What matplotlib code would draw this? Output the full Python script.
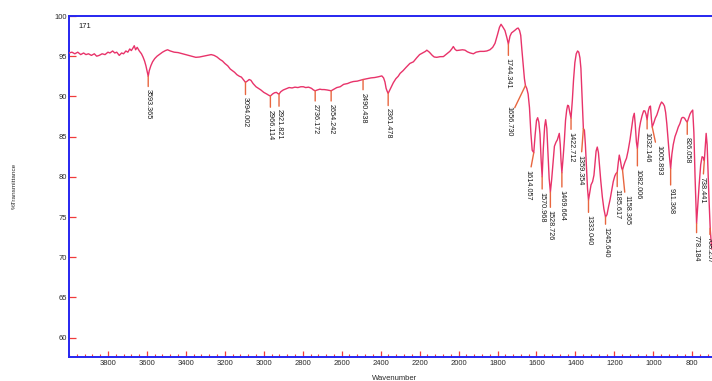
import numpy as np
import matplotlib
matplotlib.use("Agg")
import matplotlib.pyplot as plt
from matplotlib.ticker import MultipleLocator

plt.rcParams['font.family'] = ['Liberation Sans', 'DejaVu Sans']

# IR spectrum of sample 171: wavenumber (cm-1) and %Transmittance
wavenumber = [
    4000, 3985, 3970, 3955, 3940, 3925, 3913, 3900, 3885, 3870, 3858, 3845, 3830, 3815,
    3800, 3790, 3776, 3765, 3755, 3742, 3730, 3720, 3708, 3698, 3688, 3680, 3672, 3665,
    3658, 3650, 3639, 3628, 3620, 3612, 3605, 3598, 3593.365, 3588, 3580, 3571, 3560,
    3548, 3537, 3520, 3505, 3494, 3480, 3460, 3440, 3417, 3400, 3380, 3365, 3349, 3330,
    3310, 3290, 3270, 3255, 3240, 3225, 3212, 3200, 3185, 3172, 3161, 3150, 3138, 3125,
    3115, 3105, 3094.002, 3085, 3075, 3066, 3055, 3040, 3028, 3015, 3000, 2985, 2975,
    2966.114, 2955, 2945, 2935, 2928, 2921.821, 2912, 2900, 2885, 2870, 2855, 2840, 2825,
    2810, 2797, 2785, 2770, 2755, 2745, 2736.172, 2725, 2712, 2702, 2690, 2675, 2665,
    2654.242, 2640, 2625, 2608, 2590, 2570, 2555, 2540, 2520, 2505, 2490.438, 2470, 2450,
    2430, 2410, 2394, 2385, 2378, 2372, 2366, 2361.478, 2355, 2345, 2335, 2322, 2310,
    2300, 2285, 2270, 2250, 2232, 2215, 2200, 2185, 2170, 2163, 2150, 2135, 2125, 2112,
    2095, 2078, 2060, 2045, 2035, 2027, 2018, 2010, 1995, 1980, 1967, 1955, 1940, 1924,
    1910, 1890, 1870, 1855, 1839, 1825, 1813, 1800, 1790, 1782, 1772, 1762, 1752,
    1744.341, 1736, 1728, 1712, 1700, 1694, 1687, 1681, 1675, 1668, 1662, 1656.730, 1650,
    1643, 1636, 1629, 1622, 1614.057, 1607, 1600, 1594, 1588, 1582, 1576, 1570.968, 1565,
    1558, 1553, 1547, 1541, 1535, 1528.726, 1522, 1515, 1508, 1500, 1493, 1487, 1483,
    1478, 1474, 1469.664, 1463, 1457, 1451, 1445, 1440, 1435, 1429, 1422.712, 1416, 1410,
    1403, 1396, 1389, 1383, 1377, 1372, 1367, 1363, 1359.354, 1354, 1349, 1343, 1338,
    1333.040, 1327, 1320, 1312, 1305, 1300, 1294, 1288, 1282, 1276, 1270, 1262, 1254,
    1245.640, 1238, 1230, 1222, 1214, 1206, 1198, 1192, 1185.617, 1180, 1175, 1169, 1163,
    1158.365, 1152, 1145, 1138, 1130, 1120, 1112, 1104, 1098, 1093, 1087, 1082.006, 1077,
    1072, 1066, 1058, 1050, 1044, 1038, 1032.146, 1026, 1020, 1015, 1010, 1005.893, 998,
    990, 982, 974, 966, 958, 950, 943, 937, 931, 925, 918, 911.368, 905, 898, 889, 880,
    872, 864, 855, 848, 840, 833, 826.058, 819, 812, 805, 798, 792, 786, 781, 778.184,
    772, 765, 757, 750, 744, 738.441, 733, 729, 724, 719, 714, 708.257, 703, 699,
]
transmittance = [
    95.4, 95.5, 95.3, 95.5, 95.2, 95.4, 95.2, 95.3, 95.1, 95.3, 95.0, 95.1, 95.3, 95.2,
    95.5, 95.4, 95.65, 95.4, 95.5, 95.1, 95.4, 95.3, 95.65, 95.5, 95.9, 95.7, 96.0, 96.3,
    95.8, 96.1, 95.65, 95.3, 94.9, 94.4, 93.8, 93.0, 92.5, 93.2, 93.8, 94.3, 94.7,
    95.0, 95.2, 95.5, 95.7, 95.8, 95.65, 95.5, 95.45, 95.3, 95.2, 95.05, 94.95, 94.86, 94.9,
    95.0, 95.1, 95.2, 95.1, 94.9, 94.6, 94.4, 94.1, 93.8, 93.4, 93.2, 93.0, 92.7, 92.5,
    92.4, 92.1, 91.75, 91.9, 92.1, 92.0, 91.6, 91.2, 91.0, 90.8, 90.5, 90.3, 90.15,
    90.05, 90.3, 90.45, 90.5, 90.35, 90.3, 90.6, 90.8, 90.95, 91.1, 91.05, 91.15, 91.1,
    91.2, 91.2, 91.1, 91.15, 91.0, 90.8, 90.7, 90.8, 90.9, 90.85, 90.85, 90.8, 90.75,
    90.7, 90.9, 91.1, 91.2, 91.5, 91.6, 91.75, 91.85, 91.9, 92.0, 92.1, 92.2, 92.3,
    92.35, 92.45, 92.55, 92.3, 91.8, 91.0, 90.6, 90.38, 90.7, 91.2, 91.7, 92.2, 92.5,
    92.87, 93.2, 93.6, 94.1, 94.3, 94.8, 95.2, 95.4, 95.6, 95.75, 95.5, 95.1, 94.9, 94.86,
    94.94, 94.95, 95.3, 95.6, 95.9, 96.2, 95.85, 95.7, 95.75, 95.8, 95.75, 95.55, 95.4, 95.3,
    95.5, 95.6, 95.6, 95.65, 95.8, 96.1, 96.6, 97.7, 98.6, 98.97, 98.6, 98.2, 97.3,
    96.5, 97.5, 97.9, 98.2, 98.45, 98.5, 98.2, 97.6, 95.8, 93.9, 92.2, 91.35, 91.0,
    90.3, 88.6, 85.5, 83.3, 83.0, 85.2, 87.0, 87.35, 86.8, 85.3, 82.0, 80.0, 83.5,
    86.3, 87.1, 86.0, 83.0, 79.8, 78.1, 79.7, 81.8, 83.8, 84.3, 84.6, 85.1, 85.4,
    84.0, 82.0, 80.5, 82.5, 84.5, 87.0, 88.3, 88.9, 88.8, 88.0, 87.3, 89.5, 92.0,
    94.2, 95.3, 95.65, 95.5, 94.8, 93.5, 90.5, 88.0, 86.0, 85.8, 84.0, 81.0, 78.5,
    77.1, 78.0, 79.0, 79.4, 80.2, 81.5, 83.2, 83.7, 83.0, 81.3, 79.5, 77.5, 76.0,
    75.0, 75.3, 76.3, 77.2, 78.3, 79.4, 80.1, 80.4, 80.55, 81.8, 82.7, 82.0, 81.1,
    80.85, 81.4, 81.9, 82.3, 83.2, 84.6, 86.0, 87.4, 87.9, 86.5, 84.3, 83.5, 84.8,
    86.0, 86.8, 87.6, 88.2, 88.2, 87.8, 87.1, 88.2, 88.7, 88.8, 87.2, 86.2, 86.7,
    87.3, 87.7, 88.3, 88.9, 89.3, 89.1, 88.8, 88.0, 86.6, 84.8, 82.7, 81.0, 82.8, 84.0, 85.0, 85.6,
    86.2, 86.6, 87.3, 87.4, 87.3, 87.0, 86.8, 87.3, 87.8, 88.1, 88.3, 85.5, 80.0, 76.0, 74.2,
    76.5, 79.0, 81.5, 82.5, 82.4, 82.0, 84.0, 85.4, 84.0, 80.5, 77.0, 73.6, 71.8, 71.0,
]

# Picked peak positions (cm-1)
peaks = [
    3593.365, 3094.002, 2966.114, 2921.821, 2736.172, 2654.242, 2490.438, 2361.478,
    1744.341, 1656.730, 1614.057, 1570.968, 1528.726, 1469.664, 1422.712, 1359.354,
    1333.040, 1245.640, 1185.617, 1158.365, 1082.006, 1032.146, 1005.893, 911.368,
    826.058, 778.184, 738.441, 708.257,
]

x_ticks = list(range(3800, 799, -200))
y_ticks = list(range(60, 101, 5))

# leader-line offsets in pixels (dx, dy) from the peak point to the label
leader = {
    3593.365: (0, -13), 3094.002: (0, -15), 2966.114: (0, -14), 2921.821: (0, -15),
    2736.172: (0, -13), 2654.242: (0, -13), 2490.438: (0, -13), 2361.478: (0, -15),
    1744.341: (0, -14), 1656.730: (-17, -20), 1614.057: (-6, -17), 1570.968: (0, -15),
    1528.726: (0, -18), 1469.664: (0, -17), 1422.712: (0, -14), 1359.354: (-3, -26),
    1333.040: (0, -15), 1245.640: (0, -10), 1185.617: (0, -17), 1158.365: (4, -25),
    1082.006: (0, -20), 1032.146: (0, -12), 1005.893: (7, -18), 911.368: (0, -19),
    826.058: (0, -15), 778.184: (0, -12), 738.441: (-2, -16), 708.257: (-1, -9),
}

W, H, DPI = 712, 381, 100
fig = plt.figure(figsize=(W / DPI, H / DPI), dpi=DPI)
ax = fig.add_axes([69 / W, 1 - 357.3 / H, (W - 69) / W, (357.3 - 16) / H])

curve_color = '#e8336a'
leader_color = '#e8663f'
axis_blue = '#2626f0'
tick_red = '#f03c3c'

ax.plot(wavenumber, transmittance, color=curve_color, lw=1.0, zorder=3)

ax.set_xlim(4000, 699)
ax.set_ylim(57.55, 100)

wn_sorted = np.array(wavenumber)[::-1]
t_sorted = np.array(transmittance)[::-1]
px2pt = 72 / DPI
for p in peaks:
    t = float(np.interp(p, wn_sorted, t_sorted))
    dx, dy = leader[p]
    ax.annotate(f"{p:.3f}", xy=(p, t), xytext=(dx * px2pt, dy * px2pt),
                textcoords='offset points', rotation=270, ha='center', va='top',
                fontsize=5.2, color='#1a1a1a', annotation_clip=False,
                arrowprops=dict(arrowstyle='-', color=leader_color, lw=1.0,
                                shrinkA=0, shrinkB=0))

for side in ('left', 'bottom', 'top'):
    ax.spines[side].set_color(axis_blue)
    ax.spines[side].set_linewidth(1.4)
ax.spines['right'].set_visible(False)

ax.set_xticks(x_ticks)
ax.set_xticklabels([str(v) for v in x_ticks])
ax.xaxis.set_minor_locator(MultipleLocator(40))
ax.set_yticks(y_ticks)
ax.tick_params(axis='x', which='major', direction='in', length=4.5, width=0.9,
               color=tick_red, labelsize=5.5, labelcolor='#2a2a2a', pad=2)
ax.tick_params(axis='x', which='minor', direction='in', length=2.5, width=0.8,
               color=tick_red)
ax.tick_params(axis='y', which='major', direction='in', length=5, width=0.9,
               color=tick_red, labelsize=5.5, labelcolor='#2a2a2a', pad=1.5)

fig.text(14 / W, 1 - 186 / H, '%Transmittance', rotation=90, ha='center', va='center',
         fontsize=4.6, color='#2a2a2a')
fig.text(395 / W, 1 - 375.5 / H, 'Wavenumber', ha='center', va='top',
         fontsize=5.5, color='#2a2a2a')
fig.text(78 / W, 1 - 27 / H, '171', ha='left', va='center', fontsize=5.5,
         color='#1a1a1a')

fig.savefig('out.png', dpi=DPI)
